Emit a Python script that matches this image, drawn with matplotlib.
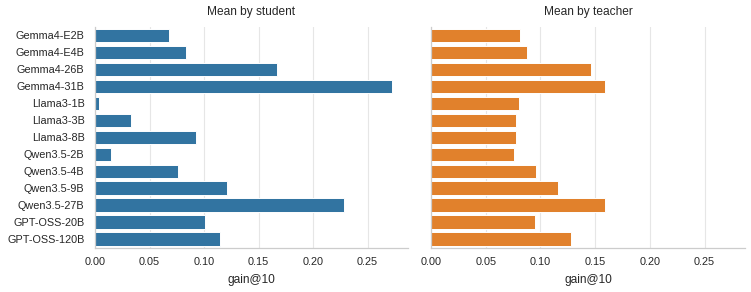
import matplotlib
matplotlib.use("Agg")
import matplotlib.pyplot as plt
import numpy as np

plt.rcParams['font.family'] = ['Liberation Sans', 'DejaVu Sans']

# models (y categories)
models = ['Gemma4-E2B', 'Gemma4-E4B', 'Gemma4-26B', 'Gemma4-31B',
          'Llama3-1B', 'Llama3-3B', 'Llama3-8B',
          'Qwen3.5-2B', 'Qwen3.5-4B', 'Qwen3.5-9B', 'Qwen3.5-27B',
          'GPT-OSS-20B', 'GPT-OSS-120B']

# mean gain@10 when the model is the student
by_student = [0.068, 0.083, 0.167, 0.272,
              0.004, 0.033, 0.093,
              0.015, 0.076, 0.121, 0.228,
              0.101, 0.115]

# mean gain@10 when the model is the teacher
by_teacher = [0.081, 0.088, 0.146, 0.159,
              0.080, 0.078, 0.078,
              0.076, 0.096, 0.116, 0.159,
              0.095, 0.128]

x_ticks = [0.00, 0.05, 0.10, 0.15, 0.20, 0.25]

fig = plt.figure(figsize=(7.51, 2.92), dpi=100)
bottom = (292 - 247.7) / 292
height = (247.7 - 27) / 292
ax1 = fig.add_axes([95 / 751, bottom, 313 / 751, height])
ax2 = fig.add_axes([431 / 751, bottom, 314 / 751, height], sharex=ax1, sharey=ax1)

y = np.arange(len(models))
xmax = max(max(by_student), max(by_teacher)) * 1.055

for ax, vals, color, title in [(ax1, by_student, '#3274a1', 'Mean by student'),
                               (ax2, by_teacher, '#e1812c', 'Mean by teacher')]:
    ax.barh(y, vals, height=0.8, color=color, edgecolor='white', linewidth=0.7, zorder=2)
    ax.set_title(title, fontsize=8.6, color='#262626', pad=8.5)
    ax.set_xlabel('gain@10', fontsize=8.6, color='#262626', labelpad=5)
    ax.grid(axis='x', color='#e6e6e6', linewidth=0.8, zorder=0)
    ax.grid(axis='y', visible=False)
    ax.set_axisbelow(True)
    for side in ['top', 'right']:
        ax.spines[side].set_visible(False)
    for side in ['left', 'bottom']:
        ax.spines[side].set_color('#cccccc')
        ax.spines[side].set_linewidth(0.9)
    ax.tick_params(axis='y', length=0, labelsize=7.85, labelcolor='#262626', pad=7.5)
    ax.tick_params(axis='x', length=0, labelsize=7.85, labelcolor='#262626', pad=7)

ax1.set_xlim(0, xmax)
ax1.set_xticks(x_ticks)
ax1.set_xticklabels(['%.2f' % t for t in x_ticks])
ax1.set_yticks(y)
ax1.set_yticklabels(models)
ax1.set_ylim(len(models) - 0.5, -0.5)
ax2.tick_params(axis='y', labelleft=False)

fig.savefig('out.png', dpi=100)
